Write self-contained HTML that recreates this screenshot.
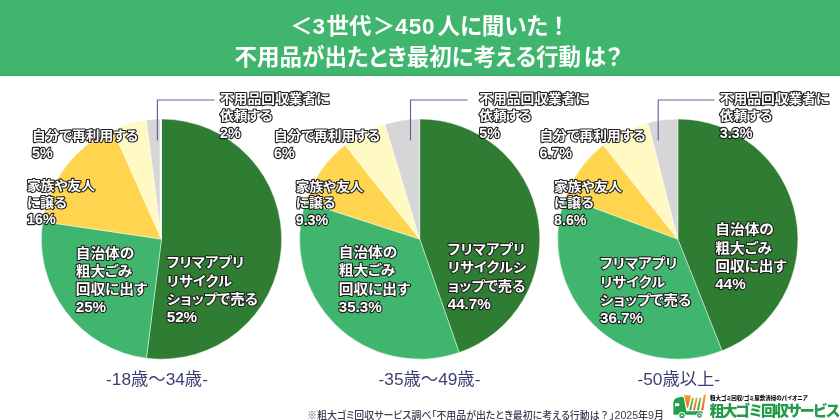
<!DOCTYPE html>
<html lang="ja"><head><meta charset="utf-8"><title>3世代450人に聞いた</title>
<style>
html,body{margin:0;padding:0;background:#fff}
body{width:840px;height:420px;position:relative;overflow:hidden;font-family:"Liberation Sans", "Noto Sans CJK JP", sans-serif}
.hd{position:absolute;left:0;top:0;width:840px;height:76.4px;background:#3fb56d;box-shadow:inset 0 -1px 0 #35ad63;color:#fff;font-weight:700;font-size:22.5px;line-height:30px;font-feature-settings:"palt"}
.hd div{position:absolute;white-space:nowrap}
.hd .d{letter-spacing:.8px}
.hd .g{margin-left:2px}
svg{position:absolute;left:0;top:0}
.lb{font-family:"Liberation Sans", "Noto Sans CJK JP", sans-serif;font-weight:700;fill:#fff;stroke:#222;stroke-width:2.3px;paint-order:stroke fill;stroke-linejoin:round;font-feature-settings:"palt"}
.age{position:absolute;top:368.2px;font-size:17.3px;line-height:22px;color:#3d3f74;font-weight:400;white-space:nowrap;transform:translateX(-50%)}
.ft{position:absolute;left:307px;top:408.2px;font-size:9.95px;line-height:14px;color:#3c3c50;font-weight:500;white-space:nowrap;font-feature-settings:"palt"}
.logo{position:absolute}
.ft .n{font-size:10.6px}
.l1{position:absolute;left:710px;top:394px;font-size:5.5px;line-height:8px;font-weight:900;color:#111;white-space:nowrap;font-feature-settings:"palt"}
.l2{position:absolute;left:709.5px;top:401.6px;font-size:15px;line-height:18px;font-weight:900;color:#239c49;white-space:nowrap;letter-spacing:-2.1px}
</style></head><body>
<div class="hd"><div style="top:12px;left:290px"><span>＜</span><span class="d">3</span><span style="margin-left:.6px">世代</span><span style="margin-left:1.4px">＞</span><span class="d">450</span><span class="g" style="margin-left:2.2px">人に聞いた</span><span style="margin-left:5px">！</span></div><div style="top:43px;left:234.5px">不用品が出たとき最初に考える行動<span style="margin-left:2.5px">は</span><span style="margin-left:.6px">？</span></div></div>
<svg width="840" height="420" viewBox="0 0 840 420">
<path d="M161.50 239.10L161.50 119.00A120.1 120.1 0 1 1 146.45 358.25Z" fill="#2e7d32" stroke="#fff" stroke-width="0.45" stroke-linejoin="round"/>
<path d="M161.50 239.10L146.45 358.25A120.1 120.1 0 0 1 42.68 221.58Z" fill="#3fb56d" stroke="#fff" stroke-width="0.45" stroke-linejoin="round"/>
<path d="M161.50 239.10L42.68 221.58A120.1 120.1 0 0 1 112.63 129.39Z" fill="#ffd54f" stroke="#fff" stroke-width="0.45" stroke-linejoin="round"/>
<path d="M161.50 239.10L112.63 129.39A120.1 120.1 0 0 1 146.45 119.95Z" fill="#fff9c4" stroke="#fff" stroke-width="0.45" stroke-linejoin="round"/>
<path d="M161.50 239.10L146.45 119.95A120.1 120.1 0 0 1 161.50 119.00Z" fill="#d6d6d6" stroke="#fff" stroke-width="0.45" stroke-linejoin="round"/>
<path d="M419.70 239.10L419.70 119.00A120.1 120.1 0 0 1 459.17 352.53Z" fill="#2e7d32" stroke="#fff" stroke-width="0.45" stroke-linejoin="round"/>
<path d="M419.70 239.10L459.17 352.53A120.1 120.1 0 0 1 305.48 201.99Z" fill="#3fb56d" stroke="#fff" stroke-width="0.45" stroke-linejoin="round"/>
<path d="M419.70 239.10L305.48 201.99A120.1 120.1 0 0 1 345.08 144.99Z" fill="#ffd54f" stroke="#fff" stroke-width="0.45" stroke-linejoin="round"/>
<path d="M419.70 239.10L345.08 144.99A120.1 120.1 0 0 1 384.96 124.13Z" fill="#fff9c4" stroke="#fff" stroke-width="0.45" stroke-linejoin="round"/>
<path d="M419.70 239.10L384.96 124.13A120.1 120.1 0 0 1 419.70 119.00Z" fill="#d6d6d6" stroke="#fff" stroke-width="0.45" stroke-linejoin="round"/>
<path d="M677.80 239.10L677.80 119.00A120.1 120.1 0 0 1 722.01 350.77Z" fill="#2e7d32" stroke="#fff" stroke-width="0.45" stroke-linejoin="round"/>
<path d="M677.80 239.10L722.01 350.77A120.1 120.1 0 0 1 565.24 197.21Z" fill="#3fb56d" stroke="#fff" stroke-width="0.45" stroke-linejoin="round"/>
<path d="M677.80 239.10L565.24 197.21A120.1 120.1 0 0 1 603.24 144.95Z" fill="#ffd54f" stroke="#fff" stroke-width="0.45" stroke-linejoin="round"/>
<path d="M677.80 239.10L603.24 144.95A120.1 120.1 0 0 1 648.01 122.75Z" fill="#fff9c4" stroke="#fff" stroke-width="0.45" stroke-linejoin="round"/>
<path d="M677.80 239.10L648.01 122.75A120.1 120.1 0 0 1 677.80 119.00Z" fill="#d6d6d6" stroke="#fff" stroke-width="0.45" stroke-linejoin="round"/>
<path d="M160.55 118V237" stroke="#fff" stroke-width="1.6" fill="none"/>
<path d="M157.4 140.5V100H214.5" fill="none" stroke="#62629a" stroke-width="1.15"/>
<path d="M410.5 140.5V100H467.5" fill="none" stroke="#62629a" stroke-width="1.15"/>
<path d="M658.2 140.5V100H714.5" fill="none" stroke="#62629a" stroke-width="1.15"/>
<text class="lb" transform="translate(220 103.2) scale(1 0.92)" font-size="13.75"><tspan x="0" dy="0">不用品回収業者に</tspan><tspan x="0" dy="18.48">依頼する</tspan></text><text class="lb" x="220" y="137.5" font-size="14.3">2%</text>
<text class="lb" transform="translate(32 140.3) scale(1 0.92)" font-size="13.75"><tspan x="0" dy="0">自分で再利用する</tspan></text><text class="lb" x="32" y="157.6" font-size="14.3">5%</text>
<text class="lb" transform="translate(27 190) scale(1 0.92)" font-size="13.75"><tspan x="0" dy="0">家族や友人</tspan><tspan x="0" dy="18.48">に譲る</tspan></text><text class="lb" x="27" y="224.3" font-size="14.3">16%</text>
<text class="lb" transform="translate(75.7 257.7) scale(1 0.92)" font-size="14.7"><tspan x="0" dy="0">自治体の</tspan><tspan x="0" dy="20.0">粗大ごみ</tspan><tspan x="0" dy="20.0">回収に出す</tspan></text><text class="lb" x="75.7" y="312.3" font-size="15.2">25%</text>
<text class="lb" transform="translate(166.7 267.4) scale(1 0.92)" font-size="14.4"><tspan x="0" dy="0">フリマアプリ</tspan><tspan x="0" dy="20.0">リサイクル</tspan><tspan x="0" dy="20.0">ショップで売る</tspan></text><text class="lb" x="166.7" y="322.0" font-size="15.2">52%</text>
<text class="lb" transform="translate(479.2 103.2) scale(1 0.92)" font-size="13.75"><tspan x="0" dy="0">不用品回収業者に</tspan><tspan x="0" dy="18.48">依頼する</tspan></text><text class="lb" x="479.2" y="137.5" font-size="14.3">5%</text>
<text class="lb" transform="translate(274 140.3) scale(1 0.92)" font-size="13.75"><tspan x="0" dy="0">自分で再利用する</tspan></text><text class="lb" x="274" y="157.6" font-size="14.3">6%</text>
<text class="lb" transform="translate(295.7 190.5) scale(1 0.92)" font-size="13.75"><tspan x="0" dy="0">家族や友人</tspan><tspan x="0" dy="18.48">に譲る</tspan></text><text class="lb" x="295.7" y="224.8" font-size="14.3">9.3%</text>
<text class="lb" transform="translate(338.7 257) scale(1 0.92)" font-size="14.7"><tspan x="0" dy="0">自治体の</tspan><tspan x="0" dy="20.0">粗大ごみ</tspan><tspan x="0" dy="20.0">回収に出す</tspan></text><text class="lb" x="338.7" y="311.6" font-size="15.2">35.3%</text>
<text class="lb" transform="translate(447.7 254) scale(1 0.92)" font-size="14.4"><tspan x="0" dy="0">フリマアプリ</tspan><tspan x="0" dy="20.0">リサイクルシ</tspan><tspan x="0" dy="20.0">ョップで売る</tspan></text><text class="lb" x="447.7" y="308.6" font-size="15.2">44.7%</text>
<text class="lb" transform="translate(719.8 103.2) scale(1 0.92)" font-size="13.75"><tspan x="0" dy="0">不用品回収業者に</tspan><tspan x="0" dy="18.48">依頼する</tspan></text><text class="lb" x="719.8" y="137.5" font-size="14.3">3.3%</text>
<text class="lb" transform="translate(539.5 140.3) scale(1 0.92)" font-size="13.75"><tspan x="0" dy="0">自分で再利用する</tspan></text><text class="lb" x="539.5" y="157.6" font-size="14.3">6.7%</text>
<text class="lb" transform="translate(554 190.5) scale(1 0.92)" font-size="13.75"><tspan x="0" dy="0">家族や友人</tspan><tspan x="0" dy="18.48">に譲る</tspan></text><text class="lb" x="554" y="224.8" font-size="14.3">8.6%</text>
<text class="lb" transform="translate(715.3 234.3) scale(1 0.92)" font-size="14.7"><tspan x="0" dy="0">自治体の</tspan><tspan x="0" dy="20.0">粗大ごみ</tspan><tspan x="0" dy="20.0">回収に出す</tspan></text><text class="lb" x="715.3" y="288.9" font-size="15.2">44%</text>
<text class="lb" transform="translate(600 268.3) scale(1 0.92)" font-size="14.4"><tspan x="0" dy="0">フリマアプリ</tspan><tspan x="0" dy="20.0">リサイクル</tspan><tspan x="0" dy="20.0">ショップで売る</tspan></text><text class="lb" x="600" y="322.9" font-size="15.2">36.7%</text>
</svg>
<div class="age" style="left:157px">-18歳～34歳-</div>
<div class="age" style="left:429.5px">-35歳～49歳-</div>
<div class="age" style="left:678.8px">-50歳以上-</div>
<div class="ft">※粗大ゴミ回収サービス調べ「不用品が出たとき最初に考える行動は<span style="font-feature-settings:normal">？</span>」<span class="n">2025</span>年<span class="n">9</span>月</div>
<svg class="logo" style="left:668px;top:390px" width="50" height="30" viewBox="0 0 700 420">
<defs><linearGradient id="og" x1="0" y1="0" x2="0" y2="1"><stop offset="0" stop-color="#f9a023"/><stop offset="1" stop-color="#ee5a24"/></linearGradient>
<linearGradient id="gg" x1="0" y1="0" x2="0" y2="1"><stop offset="0" stop-color="#8cc63f"/><stop offset="1" stop-color="#22a049"/></linearGradient></defs>
<path d="M75 345V178Q80 122 130 108L192 94Q216 92 222 116L256 298H478Q494 320 478 345Z" fill="#25a04a"/>
<path d="M98 186H158V224H120L98 236Z" fill="#fff"/>
<circle cx="195" cy="358" r="50" fill="#fff"/><circle cx="195" cy="358" r="37" fill="#25a04a"/><circle cx="195" cy="358" r="14" fill="#fff"/>
<circle cx="440" cy="358" r="44" fill="#fff"/><circle cx="440" cy="358" r="32" fill="#25a04a"/><circle cx="440" cy="358" r="12" fill="#fff"/>
<path d="M225 75H322L281 250H267Z" fill="url(#og)"/>
<path d="M298 285L335 110H362L325 285Z" fill="url(#gg)"/>
<path d="M350 285L388 110H415L378 285Z" fill="url(#og)"/>
<path d="M405 285L441 110H468L432 285Z" fill="url(#gg)"/>
<path d="M465 285L502 68H530L495 285Z" fill="url(#og)"/>
</svg>
<div class="l1">粗大ゴミ回収/ゴミ屋敷清掃のパイオニア</div>
<div class="l2">粗大ゴミ回収サービス</div>
</body></html>
